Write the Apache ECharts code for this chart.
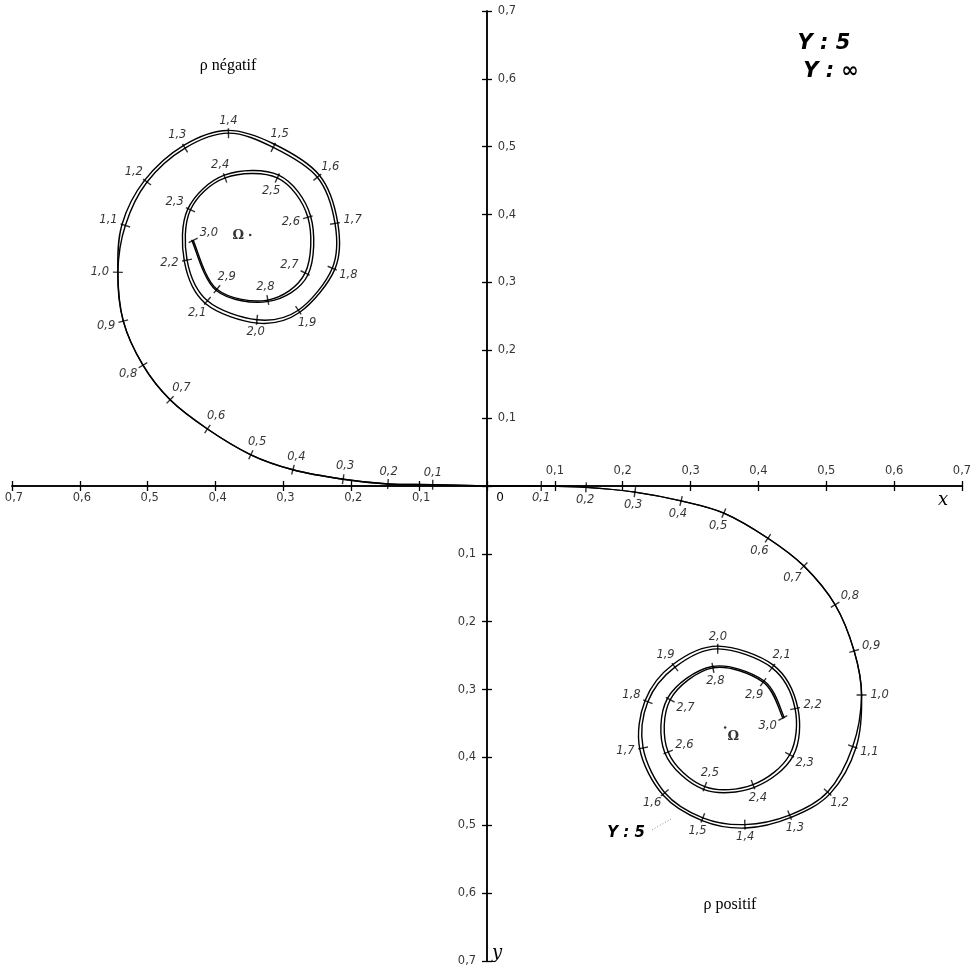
<!DOCTYPE html>
<html>
<head>
<meta charset="utf-8">
<script src="https://cdn.jsdelivr.net/npm/echarts@6/dist/echarts.min.js"></script>
<style>
  html, body { margin: 0; padding: 0; background: #ffffff; }
  #chart { width: 978px; height: 977px; }
</style>
</head>
<body>
<div id="chart"></div>
<script>
// Parameter marks along the spiral (0,1 ... 3,0)
const PARAM_LABELS = ['0,1','0,2','0,3','0,4','0,5','0,6','0,7','0,8','0,9','1,0',
                      '1,1','1,2','1,3','1,4','1,5','1,6','1,7','1,8','1,9','2,0',
                      '2,1','2,2','2,3','2,4','2,5','2,6','2,7','2,8','2,9','3,0'];

// Axis graduations and their lettering (absolute values, comma decimal)
const AXIS_VALUES = [0.1, 0.2, 0.3, 0.4, 0.5, 0.6, 0.7];
const AXIS_LABELS = ['0,1','0,2','0,3','0,4','0,5','0,6','0,7'];

// rho positive branch, Y = infinity (origin, then 0,1 ... 3,0)
const POS_INF_X = [0, 0.080, 0.146, 0.218, 0.286, 0.349, 0.414, 0.467, 0.513, 0.541, 0.552,
                   0.539, 0.502, 0.446, 0.380, 0.318, 0.262, 0.230, 0.237, 0.277, 0.340,
                   0.420, 0.454, 0.446, 0.392, 0.321, 0.267, 0.270, 0.333, 0.407, 0.436];
const POS_INF_Y = [0, 0.000, 0.002, 0.009, 0.022, 0.040, 0.077, 0.118, 0.175, 0.243, 0.308,
                   0.384, 0.451, 0.485, 0.499, 0.489, 0.452, 0.386, 0.318, 0.267, 0.240,
                   0.268, 0.328, 0.396, 0.440, 0.443, 0.392, 0.315, 0.268, 0.289, 0.342];

// rho positive branch, Y = 5
const POS_5_X = [0, 0.080, 0.146, 0.218, 0.286, 0.349, 0.414, 0.467, 0.513, 0.541, 0.552,
                 0.544, 0.506, 0.449, 0.381, 0.317, 0.259, 0.225, 0.233, 0.274, 0.340,
                 0.422, 0.458, 0.451, 0.394, 0.319, 0.262, 0.266, 0.332, 0.408, 0.438];
const POS_5_Y = [0, 0.000, 0.002, 0.009, 0.022, 0.040, 0.077, 0.118, 0.175, 0.243, 0.308,
                 0.385, 0.453, 0.488, 0.504, 0.493, 0.455, 0.387, 0.316, 0.263, 0.236,
                 0.264, 0.327, 0.398, 0.444, 0.447, 0.393, 0.313, 0.266, 0.287, 0.341];

// rho negative branch, Y = infinity
const NEG_INF_X = [0, -0.080, -0.146, -0.212, -0.286, -0.348, -0.412, -0.467, -0.507, -0.536, -0.544,
                   -0.533, -0.501, -0.445, -0.381, -0.315, -0.250, -0.224, -0.228, -0.278, -0.339,
                   -0.412, -0.442, -0.437, -0.386, -0.309, -0.264, -0.268, -0.323, -0.398, -0.433];
const NEG_INF_Y = [0, -0.002, -0.003, -0.010, -0.024, -0.046, -0.084, -0.127, -0.178, -0.243, -0.315,
                   -0.384, -0.448, -0.498, -0.520, -0.499, -0.455, -0.387, -0.321, -0.259, -0.245,
                   -0.273, -0.333, -0.407, -0.454, -0.454, -0.396, -0.314, -0.274, -0.290, -0.362];

// rho negative branch, Y = 5
const NEG_5_X = [0, -0.080, -0.146, -0.212, -0.286, -0.348, -0.412, -0.467, -0.507, -0.536, -0.544,
                 -0.538, -0.505, -0.447, -0.382, -0.314, -0.247, -0.220, -0.224, -0.276, -0.338,
                 -0.415, -0.446, -0.441, -0.387, -0.307, -0.260, -0.264, -0.322, -0.399, -0.435];
const NEG_5_Y = [0, -0.002, -0.003, -0.010, -0.024, -0.046, -0.084, -0.127, -0.178, -0.243, -0.315,
                 -0.385, -0.450, -0.502, -0.524, -0.504, -0.458, -0.388, -0.320, -0.256, -0.240,
                 -0.269, -0.331, -0.408, -0.458, -0.458, -0.398, -0.311, -0.272, -0.288, -0.362];

// Limit points Omega of the two branches
const OMEGA_X = [0.351, -0.349];
const OMEGA_Y = [0.356, -0.370];

const INK = '#000000';
const pairs = (X, Y) => X.map((x, i) => [x, Y[i]]);

// Marks 0,1..0,7 and 2,5..3,0 are lettered on the concave side, the rest outside
const labelSide = i => (i <= 7 || i >= 25) ? 1 : -1;

// Short cross-strokes perpendicular to the curve, with their parameter text
function tickItems(X, Y) {
  const items = [];
  const n = X.length;
  for (let i = 1; i < n; i++) {
    const a = i - 1, b = Math.min(i + 1, n - 1);
    const tx = X[b] - X[a], ty = Y[b] - Y[a];
    const len = Math.hypot(tx, ty) || 1;
    const nx = -ty / len, ny = tx / len;
    const s = labelSide(i);
    const d = 12 + 6 * Math.abs(nx);
    items.push({
      value: [X[i], Y[i]],
      symbolRotate: Math.atan2(-ty, tx) * 180 / Math.PI,
      label: { offset: [s * nx * d, s * ny * d] }
    });
  }
  return items;
}

// Spiral drawn as cubic pieces through consecutive marks (Catmull-Rom tangents in pixel space)
function curve(name, X, Y, width) {
  const n = X.length;
  const clampIdx = k => Math.max(0, Math.min(n - 1, k));
  return {
    type: 'custom', name, coordinateSystem: 'cartesian2d',
    data: pairs(X, Y),
    encode: { x: 0, y: 1 },
    renderItem: (params, api) => {
      const i = params.dataIndex;
      if (i >= n - 1) return null;
      const P = k => api.coord([X[clampIdx(k)], Y[clampIdx(k)]]);
      const p0 = P(i - 1), p1 = P(i), p2 = P(i + 1), p3 = P(i + 2);
      return {
        type: 'bezierCurve',
        shape: {
          x1: p1[0], y1: p1[1], x2: p2[0], y2: p2[1],
          cpx1: p1[0] + (p2[0] - p0[0]) / 6, cpy1: p1[1] + (p2[1] - p0[1]) / 6,
          cpx2: p2[0] - (p3[0] - p1[0]) / 6, cpy2: p2[1] - (p3[1] - p1[1]) / 6
        },
        style: { stroke: INK, lineWidth: width, fill: 'none', lineCap: 'round' }
      };
    },
    silent: true, animation: false, z: 2
  };
}

function ticks(X, Y) {
  return {
    type: 'scatter', data: tickItems(X, Y),
    symbol: 'rect', symbolSize: [1.4, 10],
    itemStyle: { color: INK },
    label: {
      show: true, position: 'inside',
      formatter: p => PARAM_LABELS[p.dataIndex],
      fontFamily: 'DejaVu Sans', fontStyle: 'italic', fontSize: 11.5,
      color: INK, textBorderWidth: 0
    },
    silent: true, animation: false, z: 3
  };
}

// Lettering of the axis graduations, placed on the axes through the scales
function axisLetteringItems() {
  const items = [];
  AXIS_VALUES.forEach((v, k) => {
    items.push({ value: [v, 0], name: AXIS_LABELS[k], label: { offset: [0, -15] } });
    items.push({ value: [-v, 0], name: AXIS_LABELS[k], label: { offset: [2, 12] } });
    items.push({ value: [0, -v], name: AXIS_LABELS[k], label: { offset: [20, 0] } });
    items.push({ value: [0, v], name: AXIS_LABELS[k], label: { offset: [-20, 0] } });
  });
  return items;
}

function valueAxis(extra) {
  return Object.assign({
    type: 'value', min: -0.7, max: 0.7, interval: 0.1,
    axisLine: { show: true, onZero: true, lineStyle: { color: INK, width: 1.5 } },
    axisLabel: { show: false },
    splitLine: { show: false }
  }, extra);
}

const tickOut = { show: true, length: 5, inside: false, lineStyle: { color: INK, width: 1.3 } };
const tickIn = { show: true, length: 5, inside: true, lineStyle: { color: INK, width: 1.3 } };

const option = {
  backgroundColor: '#ffffff',
  animation: false,
  grid: { left: 12, top: 11, width: 950, height: 950, outerBoundsMode: 'none' },
  xAxis: [
    valueAxis({ position: 'bottom', axisTick: tickOut }),
    valueAxis({ position: 'bottom', axisTick: tickIn })
  ],
  yAxis: [
    valueAxis({ position: 'left', inverse: true, axisTick: tickOut }),
    valueAxis({ position: 'left', inverse: true, axisTick: tickIn })
  ],
  series: [
    curve('Y : ∞', POS_INF_X, POS_INF_Y, 1.4),
    curve('Y : 5', POS_5_X, POS_5_Y, 1.4),
    curve('Y : ∞', NEG_INF_X, NEG_INF_Y, 1.4),
    curve('Y : 5', NEG_5_X, NEG_5_Y, 1.4),
    ticks(POS_INF_X, POS_INF_Y),
    ticks(NEG_INF_X, NEG_INF_Y),
    {
      type: 'scatter', name: 'graduations',
      data: axisLetteringItems(),
      symbol: 'circle', symbolSize: 0.1, itemStyle: { color: 'rgba(0,0,0,0)' },
      label: {
        show: true, position: 'inside', formatter: p => p.name,
        fontFamily: 'DejaVu Sans', fontSize: 11.5, color: INK, textBorderWidth: 0
      },
      silent: true, animation: false, z: 3
    },
    {
      type: 'scatter', name: 'Ω',
      data: [
        { value: [OMEGA_X[0], OMEGA_Y[0]], label: { offset: [8, 9] } },
        { value: [OMEGA_X[1], OMEGA_Y[1]], label: { offset: [-12, 1] } }
      ],
      symbol: 'circle', symbolSize: 2.5, itemStyle: { color: INK },
      label: {
        show: true, position: 'inside', formatter: 'Ω',
        fontFamily: 'DejaVu Serif', fontWeight: 'bold', fontSize: 13, color: INK, textBorderWidth: 0
      },
      silent: true, animation: false, z: 3
    }
  ],
  graphic: [
    { type: 'text', x: 500, y: 498, style: { text: '0', font: '12px "DejaVu Sans"', fill: INK, align: 'center', verticalAlign: 'middle' } },
    { type: 'text', x: 943, y: 500, style: { text: 'x', font: 'italic 18px "DejaVu Serif"', fill: INK, align: 'center', verticalAlign: 'middle' } },
    { type: 'text', x: 497, y: 953, style: { text: 'y', font: 'italic 18px "DejaVu Serif"', fill: INK, align: 'center', verticalAlign: 'middle' } },
    { type: 'text', x: 228, y: 66, style: { text: 'ρ négatif', font: '16px "Liberation Serif"', fill: INK, align: 'center', verticalAlign: 'middle' } },
    { type: 'text', x: 730, y: 905, style: { text: 'ρ positif', font: '16px "Liberation Serif"', fill: INK, align: 'center', verticalAlign: 'middle' } },
    { type: 'text', x: 824, y: 44, style: { text: 'Y : 5', font: 'italic bold 21px "DejaVu Sans"', fill: INK, align: 'center', verticalAlign: 'middle' } },
    { type: 'text', x: 831, y: 72, style: { text: 'Y : ∞', font: 'italic bold 21px "DejaVu Sans"', fill: INK, align: 'center', verticalAlign: 'middle' } },
    { type: 'text', x: 626, y: 833, style: { text: 'Y : 5', font: 'italic bold 15px "DejaVu Sans"', fill: INK, align: 'center', verticalAlign: 'middle' } },
    { type: 'line', shape: { x1: 652, y1: 830, x2: 671, y2: 819 }, style: { stroke: '#888', lineWidth: 1, lineDash: [1, 2] } }
  ]
};

const chart = echarts.init(document.getElementById('chart'));
chart.setOption(option);
</script>
</body>
</html>
